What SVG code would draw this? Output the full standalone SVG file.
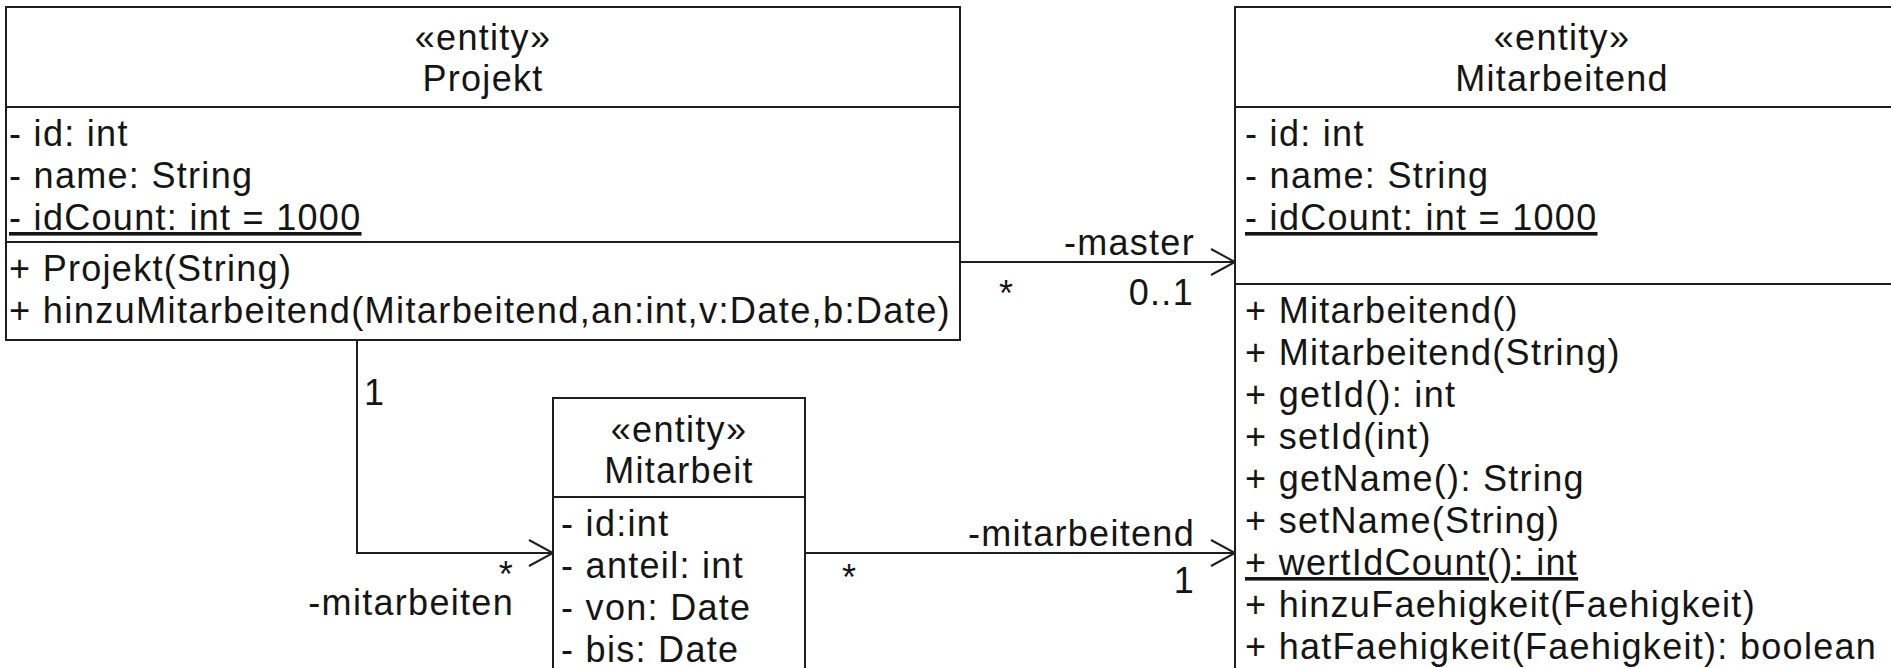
<svg xmlns="http://www.w3.org/2000/svg" width="1891" height="668" viewBox="0 0 1891 668">
  <style>
    .box { fill: #ffffff; stroke: #1e1e1e; stroke-width: 2; }
    .div { stroke: #1e1e1e; stroke-width: 2; }
    .t { font-family: "Liberation Sans", Arial, sans-serif; font-size: 36px; fill: #151515; letter-spacing: 1.3px; }
    .c { text-anchor: middle; }
    .e { text-anchor: end; }
    .u { text-decoration: underline; }
    .conn { fill: none; stroke: #1e1e1e; stroke-width: 2; }
  </style>
  <defs>
    <marker id="open" markerUnits="userSpaceOnUse" markerWidth="30" markerHeight="30" viewBox="-26 -15 28 30" refX="0" refY="0" orient="auto">
      <path d="M-24,-13 L0,0 L-24,13" fill="none" stroke="#1e1e1e" stroke-width="2"/>
    </marker>
  </defs>
  <rect width="1891" height="668" fill="#ffffff"/>

  <g id="connectors">
    <line class="conn" x1="960" y1="262" x2="1235" y2="262" marker-end="url(#open)"/>
    <polyline class="conn" points="357,340 357,553 553,553" marker-end="url(#open)"/>
    <line class="conn" x1="805" y1="553" x2="1235" y2="553" marker-end="url(#open)"/>
    <text class="t e" x="1195" y="255">-master</text>
    <text class="t e" x="1194" y="305">0..1</text>
    <text class="t" x="999" y="306">*</text>
    <text class="t" x="364" y="405">1</text>
    <text class="t e" x="514" y="587">*</text>
    <text class="t e" x="514" y="615">-mitarbeiten</text>
    <text class="t" x="842" y="590">*</text>
    <text class="t e" x="1195" y="546">-mitarbeitend</text>
    <text class="t e" x="1195" y="593">1</text>
  </g>

  <g id="Projekt">
    <rect class="box" x="6" y="7" width="954" height="333"/>
    <line class="div" x1="6" y1="107" x2="960" y2="107"/>
    <line class="div" x1="6" y1="242" x2="960" y2="242"/>
    <text class="t c" x="483" y="50">«entity»</text>
    <text class="t c" x="483" y="91">Projekt</text>
    <text class="t" x="9" y="146">- id: int</text>
    <text class="t" x="9" y="188">- name: String</text>
    <text class="t u" x="9" y="230">- idCount: int = 1000</text>
    <text class="t" x="9" y="281">+ Projekt(String)</text>
    <text class="t" x="9" y="323" textLength="942" lengthAdjust="spacingAndGlyphs">+ hinzuMitarbeitend(Mitarbeitend,an:int,v:Date,b:Date)</text>
  </g>

  <g id="Mitarbeit">
    <rect class="box" x="553" y="398" width="252" height="300"/>
    <line class="div" x1="553" y1="497" x2="805" y2="497"/>
    <text class="t c" x="679" y="442">«entity»</text>
    <text class="t c" x="679" y="483">Mitarbeit</text>
    <text class="t" x="561" y="536">- id:int</text>
    <text class="t" x="561" y="578">- anteil: int</text>
    <text class="t" x="561" y="620">- von: Date</text>
    <text class="t" x="561" y="662">- bis: Date</text>
  </g>

  <g id="Mitarbeitend">
    <rect class="box" x="1235" y="7" width="700" height="700"/>
    <line class="div" x1="1235" y1="107" x2="1891" y2="107"/>
    <line class="div" x1="1235" y1="284" x2="1891" y2="284"/>
    <text class="t c" x="1562" y="50">«entity»</text>
    <text class="t c" x="1562" y="91">Mitarbeitend</text>
    <text class="t" x="1245" y="146">- id: int</text>
    <text class="t" x="1245" y="188">- name: String</text>
    <text class="t u" x="1245" y="230">- idCount: int = 1000</text>
    <text class="t" x="1245" y="323">+ Mitarbeitend()</text>
    <text class="t" x="1245" y="365">+ Mitarbeitend(String)</text>
    <text class="t" x="1245" y="407">+ getId(): int</text>
    <text class="t" x="1245" y="449">+ setId(int)</text>
    <text class="t" x="1245" y="491">+ getName(): String</text>
    <text class="t" x="1245" y="533">+ setName(String)</text>
    <text class="t u" x="1245" y="575">+ wertIdCount(): int</text>
    <text class="t" x="1245" y="617">+ hinzuFaehigkeit(Faehigkeit)</text>
    <text class="t" x="1245" y="659">+ hatFaehigkeit(Faehigkeit): boolean</text>
  </g>
</svg>
